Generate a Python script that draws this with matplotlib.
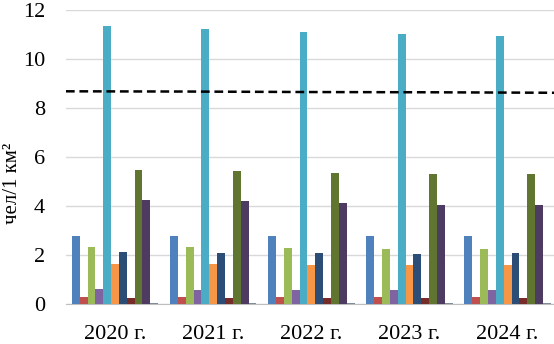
import numpy as np
import matplotlib
matplotlib.use("Agg")
import matplotlib.pyplot as plt

plt.rcParams["font.family"] = ["Liberation Serif", "DejaVu Serif"]

years = ["2020 г.", "2021 г.", "2022 г.", "2023 г.", "2024 г."]

# значения по рядам (11 рядов на каждый год)
ryad_1 = [2.78, 2.79, 2.79, 2.77, 2.77]
ryad_2 = [0.30, 0.30, 0.30, 0.30, 0.29]
ryad_3 = [2.34, 2.33, 2.30, 2.27, 2.27]
ryad_4 = [0.62, 0.59, 0.59, 0.59, 0.59]
ryad_5 = [11.33, 11.22, 11.10, 11.00, 10.93]
ryad_6 = [1.64, 1.64, 1.60, 1.60, 1.59]
ryad_7 = [2.15, 2.11, 2.10, 2.07, 2.08]
ryad_8 = [0.26, 0.26, 0.26, 0.26, 0.25]
ryad_9 = [5.47, 5.42, 5.36, 5.32, 5.29]
ryad_10 = [4.27, 4.19, 4.12, 4.05, 4.04]
ryad_11 = [0.04, 0.04, 0.04, 0.04, 0.04]

# средняя плотность (пунктир)
srednee = [8.68, 8.67, 8.65, 8.64, 8.62]

ryady = [ryad_1, ryad_2, ryad_3, ryad_4, ryad_5, ryad_6,
         ryad_7, ryad_8, ryad_9, ryad_10, ryad_11]
cveta = ["#4F81BD", "#C0504D", "#9BBB59", "#8064A2", "#4BACC6", "#F79646",
         "#2C4D75", "#772C2A", "#5F7530", "#4D3B62", "#7f8c99"]

fig = plt.figure(figsize=(5.54, 3.44), dpi=100)
ax = fig.add_axes([0.119, 0.1154, 0.886, 0.856])

x = np.arange(len(years))
w = 0.08
n = len(ryady)
for i, (vals, c) in enumerate(zip(ryady, cveta)):
    ax.bar(x + (i - (n - 1) / 2) * w, vals, width=w, color=c, zorder=3)

ax.plot(np.linspace(-0.5, len(years) - 0.5, len(srednee)), srednee,
        color="black", lw=1.8, dashes=(3.5, 1.9), zorder=4)

ax.set_xlim(-0.5, len(years) - 0.5)
ax.set_ylim(0, 12)
ax.set_yticks(range(0, 13, 2))
ax.set_xticks(x)
ax.set_xticklabels(years)
ax.grid(axis="y", color="#d9d9d9", lw=1, zorder=0)
for s in ["top", "right", "left"]:
    ax.spines[s].set_visible(False)
ax.spines["bottom"].set_color("#bfbfbf")
ax.tick_params(axis="both", length=0, labelsize=16)
ax.tick_params(axis="x", pad=15)
ax.tick_params(axis="y", pad=15)
ax.set_ylabel("чел/1 км²", fontsize=15)
ax.yaxis.set_label_coords(-0.09, 0.41)

fig.savefig("out.png", dpi=100)
